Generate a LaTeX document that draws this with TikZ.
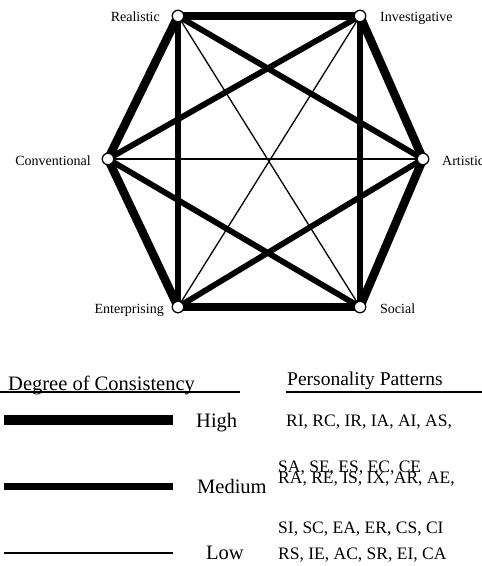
\documentclass[tikz,border=0pt]{standalone}
\usepackage{fontspec}
\setmainfont{Liberation Serif}
\usetikzlibrary{backgrounds}
\begin{document}
\begin{tikzpicture}[x=1pt,y=-1pt]
    \tikzset{vertex/.style = {circle, draw=black, fill=white, line width=1.3pt, minimum size=11.5pt, inner sep=0pt}}
    \tikzset{high/.style = {line width=8.5pt, line cap=round}}
    \tikzset{medium/.style = {line width=5.8pt, line cap=round}}
    \tikzset{low/.style = {line width=1.3pt}}
    \tikzset{vlabel/.style = {font=\fontsize{14}{16}\selectfont, inner sep=0pt}}
    \tikzset{head/.style = {font=\fontsize{20.5}{24}\selectfont, inner sep=0pt, anchor=base west}}
    \tikzset{pairs/.style = {font=\fontsize{17.5}{20}\selectfont, inner sep=0pt, anchor=base west}}
    \useasboundingbox (0,0) rectangle (482,566);
    % hexagon of types
    \node[vertex] (R) at (178,16) {};
    \node[vertex] (I) at (360,16) {};
    \node[vertex] (A) at (423,159) {};
    \node[vertex] (S) at (360,307) {};
    \node[vertex] (E) at (178,307) {};
    \node[vertex] (C) at (108,159) {};
    \node[vlabel, anchor=base east] (Rlab) at (160,21) {Realistic};
    \node[vlabel, anchor=base west] (Ilab) at (380,21) {Investigative};
    \node[vlabel, anchor=base west] (Alab) at (442,165) {Artistic};
    \node[vlabel, anchor=base west] (Slab) at (380,313) {Social};
    \node[vlabel, anchor=base east] (Elab) at (164,313) {Enterprising};
    \node[vlabel, anchor=base east] (Clab) at (91,165) {Conventional};
    \begin{scope}[on background layer]
        \foreach \a/\b in {R/I, I/A, A/S, S/E, E/C, C/R}
            \draw[high] (\a.center) -- (\b.center);
        \foreach \a/\b in {R/E, I/S, R/A, I/C, C/S, E/A}
            \draw[medium] (\a.center) -- (\b.center);
        \foreach \a/\b in {R/S, I/E, C/A}
            \draw[low] (\a.center) -- (\b.center);
    \end{scope}
    % legend
    \node[head] (degree) at (8,390) {Degree of Consistency};
    \node[head, font=\fontsize{19.5}{23}\selectfont] (patterns) at (287,385) {Personality Patterns};
    \draw[line width=1.3pt] (0,392) -- (240,392);
    \draw[line width=1.3pt] (286,392) -- (482,392);
    \draw[line width=10pt] (4,420) -- (173,420);
    \draw[line width=6.5pt] (4,486.5) -- (173,486.5);
    \draw[line width=1.5pt] (4,553) -- (173,553);
    \node[head] (high) at (196,427) {High};
    \node[head] (medium) at (197,493) {Medium};
    \node[head] (low) at (206,559) {Low};
    \node[pairs] (highpairs) at (286,426) {RI, RC, IR, IA, AI, AS,};
    \node[pairs] (medpairsa) at (278,472) {SA, SE, ES, EC, CE};
    \node[pairs] (medpairsb) at (278,483) {RA, RE, IS, IX, AR, AE,};
    \node[pairs] (lowpairsa) at (278,533) {SI, SC, EA, ER, CS, CI};
    \node[pairs] (lowpairsb) at (278,559) {RS, IE, AC, SR, EI, CA};
\end{tikzpicture}
\end{document}
